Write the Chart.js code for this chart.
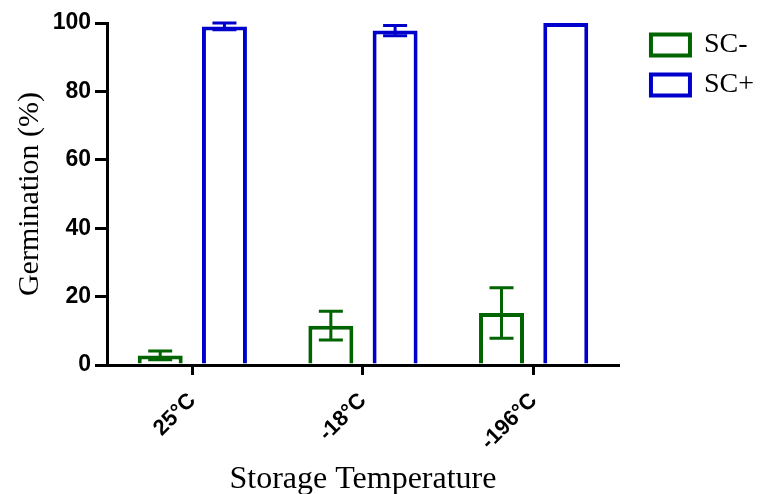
<!DOCTYPE html>
<html><head><meta charset="utf-8">
<script src="https://cdn.jsdelivr.net/npm/chart.js@4"></script>
<style>html,body{margin:0;padding:0;background:#fff;}</style>
</head><body>
<canvas id="c" width="762" height="494" style="display:block;width:762px;height:494px"></canvas>
<script>
// ---- data ----
const categories = ['25°C', '-18°C', '-196°C'];
const seriesNames = ['SC-', 'SC+'];
const scMinus = [2.8, 11.5, 15.2];
const scMinusErr = [1.3, 4.2, 7.4];
const scPlus = [99.0, 97.8, 100];
const scPlusErr = [1.0, 1.5, 0];
const yTicks = [0, 20, 40, 60, 80, 100];
const xTitle = 'Storage Temperature';
const yTitle = 'Germination (%)';

const GREEN = '#006400';
const BLUE = '#0000cc';

const errorBars = {
  id: 'errorBars',
  afterDatasetsDraw(chart) {
    const ctx = chart.ctx, y = chart.scales.y;
    chart.data.datasets.forEach((ds, di) => {
      const meta = chart.getDatasetMeta(di);
      meta.data.forEach((bar, i) => {
        const e = ds.errors[i];
        if (!e) return;
        const v = ds.data[i];
        const yT = y.getPixelForValue(v + e), yB = y.getPixelForValue(v - e);
        const hw = 12;
        ctx.save();
        ctx.strokeStyle = ds.borderColor; ctx.lineWidth = 3; ctx.lineCap = 'butt';
        ctx.beginPath();
        ctx.moveTo(bar.x, yT); ctx.lineTo(bar.x, yB);
        ctx.moveTo(bar.x - hw, yT); ctx.lineTo(bar.x + hw, yT);
        ctx.moveTo(bar.x - hw, yB); ctx.lineTo(bar.x + hw, yB);
        ctx.stroke();
        ctx.restore();
      });
    });
  }
};

const legendShift = {
  id: 'legendShift',
  afterLayout(chart) {
    const lg = chart.legend;
    const w = lg.right - lg.left;
    lg.left = chart.chartArea.right + 20; lg.right = lg.left + w;
    lg.top = 19;
  }
};

new Chart(document.getElementById('c'), {
  type: 'bar',
  data: {
    labels: categories,
    datasets: [
      { label: seriesNames[0], data: scMinus, errors: scMinusErr, backgroundColor: '#ffffff', borderColor: GREEN, borderWidth: 4 },
      { label: seriesNames[1], data: scPlus, errors: scPlusErr, backgroundColor: '#ffffff', borderColor: BLUE, borderWidth: 4 }
    ]
  },
  plugins: [errorBars, legendShift],
  options: {
    responsive: false,
    animation: false,
    devicePixelRatio: 1,
    categoryPercentage: 0.753,
    barPercentage: 0.70,
    layout: { padding: { top: 23, right: 18, bottom: 0, left: 0 } },
    plugins: {
      tooltip: { enabled: false },
      legend: {
        position: 'right', align: 'start',
        labels: {
          color: '#000', boxWidth: 39, boxHeight: 21, padding: 12,
          font: { family: 'Liberation Serif', size: 28 }
        }
      }
    },
    scales: {
      x: {
        afterFit(s) { s.height = 129; },
        grid: { display: true, offset: false, drawOnChartArea: false, drawTicks: true, tickLength: 10, tickWidth: 3, lineWidth: 3, tickColor: '#000', color: '#000' },
        border: { display: true, color: '#000', width: 3 },
        ticks: { color: '#000', minRotation: 45, maxRotation: 45, padding: 13, font: { family: 'Liberation Sans', size: 22, weight: 'bold' } },
        title: { display: true, text: xTitle, color: '#000', padding: { top: 0, bottom: -5 }, font: { family: 'Liberation Serif', size: 32 } }
      },
      y: {
        min: 0, max: 100,
        afterFit(s) { s.width = 107; },
        afterBuildTicks(s) { s.ticks = yTicks.map(v => ({ value: v })); },
        grid: { display: true, drawOnChartArea: false, drawTicks: true, tickLength: 12, tickWidth: 3, lineWidth: 3, tickColor: '#000', color: '#000' },
        border: { display: true, color: '#000', width: 3 },
        ticks: { color: '#000', padding: 4, font: { family: 'Liberation Sans', size: 23, weight: 'bold' } },
        title: { display: true, text: yTitle, color: '#000', padding: { top: 12, bottom: 0 }, font: { family: 'Liberation Serif', size: 30 } }
      }
    }
  }
});
</script>
</body></html>
